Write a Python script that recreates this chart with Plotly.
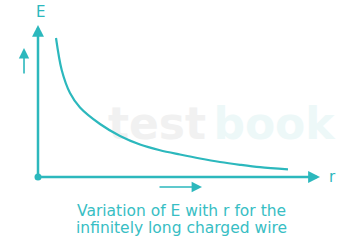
import plotly.graph_objects as go

# Data (arbitrary units)
r_vals = [1.8, 2.37, 3.2, 4.2, 6.2, 8.2, 10.2, 12.2, 14.2, 16.2, 18.2, 20.2, 22.2, 25.0]
E_vals = [13.9, 10.7, 8.4, 6.95, 5.3, 4.1, 3.25, 2.68, 2.25, 1.85, 1.5, 1.22, 0.98, 0.77]
x_label = "r"
y_label = "E"
caption_lines = ["Variation of E with r for the", "infinitely long charged wire"]
watermark_parts = ["test", "book"]

X_MAX = 28.2
Y_MAX = 15.2
TEAL = "#2cb8bd"
TEXT_TEAL = "#38bec4"
FONT = "DejaVu Sans"

fig = go.Figure()

# watermark (behind the curve)
fig.add_trace(go.Scatter(
    x=[11.9, 23.6], y=[4.9, 4.9], mode="text",
    text=["<b>" + watermark_parts[0] + "</b>", "<b>" + watermark_parts[1] + "</b>"],
    textfont=dict(family=FONT, size=44, color=["#f1f1f1", "#edf8f8"]),
    textposition="middle center", cliponaxis=False, hoverinfo="skip", showlegend=False,
))

# E vs r curve
fig.add_trace(go.Scatter(
    x=r_vals, y=E_vals, mode="lines",
    line=dict(color=TEAL, width=2.2, shape="spline", smoothing=0.9),
    hoverinfo="skip", showlegend=False,
))

# origin dot
fig.add_trace(go.Scatter(
    x=[0], y=[0], mode="markers", marker=dict(color=TEAL, size=7),
    cliponaxis=False, hoverinfo="skip", showlegend=False,
))

annotations = [
    # y axis arrow
    dict(x=0, y=Y_MAX, ax=0, ay=0, xref="x", yref="y", axref="x", ayref="y",
         text="", showarrow=True, arrowhead=2, arrowsize=0.95, arrowwidth=2.5, arrowcolor=TEAL),
    # x axis arrow
    dict(x=X_MAX, y=0, ax=0, ay=0, xref="x", yref="y", axref="x", ayref="y",
         text="", showarrow=True, arrowhead=2, arrowsize=0.95, arrowwidth=2.5, arrowcolor=TEAL),
    # small up arrow
    dict(x=-0.0496, y=0.8487, ax=0, ay=27, xref="paper", yref="paper",
         text="", showarrow=True, arrowhead=2, arrowsize=1.3, arrowwidth=1.6, arrowcolor=TEAL),
    # small right arrow
    dict(x=0.5816, y=-0.0658, ax=-44, ay=0, xref="paper", yref="paper",
         text="", showarrow=True, arrowhead=2, arrowsize=1.3, arrowwidth=1.6, arrowcolor=TEAL),
    # axis labels
    dict(x=0.0071, y=1.0855, xref="paper", yref="paper", text=y_label, showarrow=False,
         font=dict(family=FONT, size=15, color=TEAL), xanchor="center", yanchor="middle"),
    dict(x=1.046, y=0.0, xref="paper", yref="paper", text=x_label, showarrow=False,
         font=dict(family=FONT, size=15, color=TEAL), xanchor="center", yanchor="middle"),
    # caption
    dict(x=0.5106, y=-0.225, xref="paper", yref="paper", text=caption_lines[0], showarrow=False,
         font=dict(family=FONT, size=15.5, color=TEXT_TEAL), xanchor="center", yanchor="middle"),
    dict(x=0.5106, y=-0.338, xref="paper", yref="paper", text=caption_lines[1], showarrow=False,
         font=dict(family=FONT, size=15.5, color=TEXT_TEAL), xanchor="center", yanchor="middle"),
]

fig.update_layout(
    width=342, height=243,
    margin=dict(l=38, r=22, t=25, b=66),
    paper_bgcolor="white", plot_bgcolor="white",
    xaxis=dict(range=[0, X_MAX], visible=False, fixedrange=True),
    yaxis=dict(range=[0, Y_MAX], visible=False, fixedrange=True),
    annotations=annotations,
    showlegend=False,
)

fig.write_html(
    "out.html",
    config=dict(displayModeBar=False),
    post_script="document.body.style.margin='0';document.body.style.padding='0';",
)
